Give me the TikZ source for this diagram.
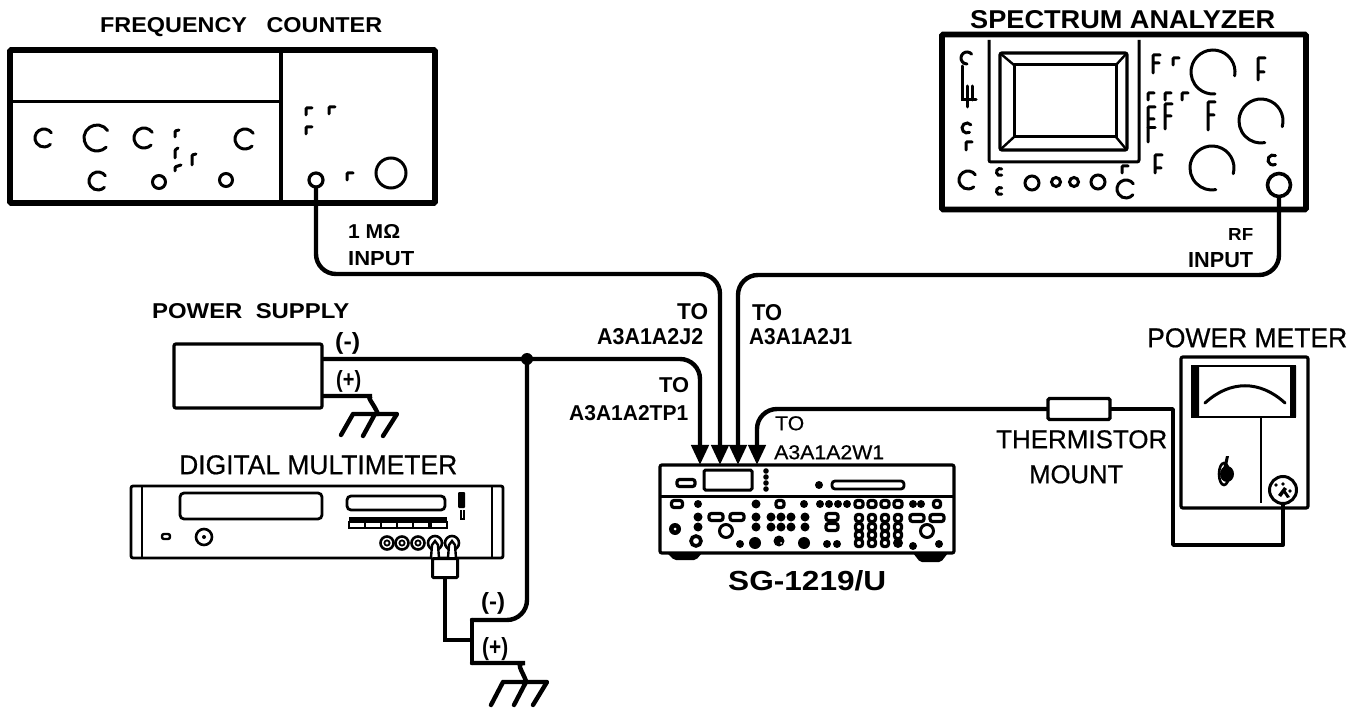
\documentclass[tikz,border=0pt]{standalone}
\usepackage{fontspec}
\setmainfont{Liberation Sans}
\newfontfamily\heavyfont[FakeBold=1.2]{Liberation Sans Bold}
\newfontfamily\medfont[FakeBold=0.6]{Liberation Sans}
\usetikzlibrary{arrows.meta}
\tikzset{
  wire/.style={line width=4.4pt,rounded corners=20pt,line cap=round},
  arrowwire/.style={wire,-{Triangle[length=20pt,width=17pt]}},
  case/.style={draw,line width=5.6pt,rounded corners=1pt,inner sep=0pt},
  panel/.style={draw,line width=3.2pt,rounded corners=2pt,inner sep=0pt},
  part/.style={draw,line width=2.8pt,rounded corners=2pt},
  lab/.style={inner sep=0pt,anchor=north west,font=\bfseries},
  labreg/.style={inner sep=0pt,anchor=north west,font=\medfont},
  hook/.style={line width=3pt,rounded corners=1pt,line cap=round}
}
% label box: left, top, right, bottom
\newcommand{\lbl}[7][lab]{\node[#1] (#2) at (#3,#4) {\resizebox{\dimexpr#5pt-#3pt\relax}{\dimexpr#6pt-#4pt\relax}{#7}};}
\newcommand{\knobc}[5]{\draw[line width=3pt,line cap=round] (#1,#2) ++(-#4:#3) arc (-#4:-#5:#3);}
\newcommand{\cknob}[3]{\knobc{#1}{#2}{#3}{35}{315}}
\newcommand{\rnd}[3]{\draw[line width=3pt] (#1,#2) circle (#3);}
\newcommand{\hk}[2]{\draw[hook] (#1,#2+7) -- (#1,#2) -- (#1+6,#2);}
\newcommand{\fk}[4]{\draw[hook] (#1,#2+#3) -- (#1,#2) -- (#1+7,#2) (#1,#2+#4) -- (#1+6,#2+#4);}
\newcommand{\blob}[3]{\fill (#1,#2) circle (#3);}
\newcommand{\ovl}[3]{\draw[line width=3.2pt,rounded corners=2.5pt] (#1-#3/2,#2-3.5) rectangle (#1+#3/2,#2+3.5);}
\begin{document}
\begin{tikzpicture}[x=1pt,y=-1pt]
\useasboundingbox (0,0) rectangle (1355,708);

% ---------- labels
\lbl{lfc}{100}{17}{382}{32}{FREQUENCY\ \ \ COUNTER}
\lbl{lfcin}{348}{224}{400}{238}{1 MΩ}
\lbl{lfcin2}{348}{251}{414}{265}{INPUT}
\lbl{lsa}{970}{10}{1275}{28}{SPECTRUM ANALYZER}
\lbl{lrf}{1228}{228}{1253}{240}{RF}
\lbl{lrf2}{1188}{252}{1253}{267}{INPUT}
\lbl{lps}{152}{303}{349}{318}{POWER\ \ SUPPLY}
\lbl{lm1}{335}{332}{360}{349}{(-)}
\lbl{lp1}{336}{370}{361}{387}{(+)}
\lbl[labreg]{ldm}{179}{455}{457}{474}{DIGITAL MULTIMETER}
\lbl{lto2}{677}{303}{708}{319}{TO}
\lbl{lj2}{597}{328}{703}{344}{A3A1A2J2}
\lbl{lto1}{752}{304}{782}{320}{TO}
\lbl{lj1}{749}{328}{852}{344}{A3A1A2J1}
\lbl{ltot}{659}{377}{689}{392}{TO}
\lbl{ltp}{569}{405}{688}{420}{A3A1A2TP1}
\lbl[labreg]{ltow}{775}{416}{804}{430}{TO}
\lbl[labreg]{lw1}{774}{445}{884}{459}{A3A1A2W1}
\lbl{lsg}{728}{570}{886}{590}{SG-1219/U}
\lbl[labreg]{lth}{996}{430}{1167}{448}{THERMISTOR}
\lbl[labreg]{lmt}{1029}{465}{1123}{483}{MOUNT}
\lbl[labreg]{lpm}{1147}{328}{1347}{347}{POWER METER}
\lbl{lm2}{481}{592}{505}{609}{(-)}
\lbl{lp2}{482}{637}{508}{655}{(+)}

% ---------- frequency counter
\node[case,minimum width=425pt,minimum height=153pt] (fc) at (222.5,126.5) {};
\coordinate (fcdt) at (281,50); \coordinate (fcdb) at (281,203);
\draw[line width=3.4pt] (fcdt) -- (fcdb);
\draw[line width=3pt] (12,102) -- (280,102);
\cknob{44}{138}{9}\cknob{97}{138}{13}\cknob{144}{138}{10}\cknob{245}{139}{10}\cknob{98}{181}{9}
\rnd{159}{182}{6.5}\rnd{226}{180}{6.5}
\draw[hook] (175,137)--(175,131)--(179,130);
\draw[hook] (175,158)--(175,150)--(178,148);
\draw[hook] (175,171)--(175,167)--(181,165);
\draw[hook] (192,165)--(192,155)--(196,154);
\hk{306}{108}\hk{329}{107}\hk{306}{127}\hk{347}{173}
\node[draw,circle,line width=3.2pt,minimum size=14pt,inner sep=0pt] (fcin) at (316,180) {};
\rnd{391}{173}{15}

% ---------- spectrum analyzer
\node[case,minimum width=364pt,minimum height=175pt] (sa) at (1124,122) {};
\draw[line width=3pt,rounded corners=2pt] (989,40) -- (989,162) -- (1139,162) -- (1139,40);
\draw[line width=3.2pt,rounded corners=2pt] (1000,53) rectangle (1127,150);
\draw[line width=3pt] (1014,65) rectangle (1116,137);
\draw[line width=2.4pt] (1001,54)--(1014,65) (1126,54)--(1116,65) (1001,149)--(1014,137) (1126,149)--(1116,137);
% left column
\knobc{967}{58}{6}{40}{270}
\draw[hook,rounded corners=0pt] (962,66)--(962,100)--(976,100) (967,86)--(967,107) (972,86)--(972,100);
\knobc{967}{128}{5}{40}{300}
\draw[hook] (966,150)--(966,142)--(972,142);
\knobc{968}{180}{9}{35}{310}
\knobc{1000}{172}{3.5}{60}{300}\knobc{1000}{191}{3.5}{60}{300}
\rnd{1032}{183}{7}\rnd{1056}{182}{4.5}\rnd{1074}{182}{4.5}\rnd{1098}{182}{7}
\knobc{1126}{189}{9}{35}{320}
\hk{1122}{166}
% switches
\fk{1153}{55}{18}{8}\hk{1173}{58}\knobc{1213}{72}{22}{-10}{275}\fk{1258}{58}{22}{14}
\hk{1148}{93}\hk{1165}{93}\hk{1182}{93}
\fk{1148}{107}{35}{12}\draw[hook](1148,128)--(1155,128);
\fk{1165}{104}{25}{12}\fk{1208}{102}{28}{13}
\knobc{1261}{121}{22}{-15}{280}
\fk{1155}{155}{18}{13}\knobc{1212}{168}{22}{-15}{280}
\knobc{1273}{160}{5}{60}{300}
\node[draw,circle,line width=3.6pt,minimum size=23pt,inner sep=0pt] (sain) at (1279,185) {};

% ---------- power supply
\node[panel,minimum width=148pt,minimum height=64pt] (ps) at (248,376) {};
\coordinate (psm) at (ps.east |- 0,359);
\coordinate (psp) at (ps.east |- 0,396);
\coordinate (jn) at (527,359);
\coordinate (g1) at (378,414);
\draw[line width=4.4pt,line cap=round,line join=round] (353,414)--(397,414)--(383,436) (353,414)--(341,435) (375,414)--(363,436);

% ---------- multimeter
\node[panel,line width=2.8pt,minimum width=372pt,minimum height=72pt] (dm) at (317,522) {};
\draw[line width=2.6pt] (142,486)--(142,558) (492,486)--(492,558);
\draw[part,rounded corners=4pt] (180,493) rectangle (322,519);
\draw[part,rounded corners=4pt] (347,496) rectangle (445,510);
\fill (349,517) rectangle (447,522);
\foreach \i in {349,365,381,397,413,431} {\draw[line width=2.4pt] (\i,522) -- (\i+16,522) -- (\i+16,528) -- (\i,528) -- cycle;}
\draw[part,line width=2.4pt] (162,534) rectangle (170,539);
\draw[line width=2.6pt] (204,537) circle (8); \fill (204,537) circle (2);
\draw[line width=2.4pt] (461,510)--(461,519)--(464,519)--(464,510); \fill[rounded corners=1pt] (458,492) rectangle (465,508);
\foreach \i in {387,402,418} {\draw[line width=2.6pt] (\i,543) circle (6.5); \draw[line width=1.8pt] (\i,543) circle (2.6);}
\draw[line width=2.6pt] (435,543) circle (7) (452,543) circle (7);
\draw[line width=2.4pt,fill=white] (431,558)--(432,545)--(435,541)--(438,545)--(439,558) (448,558)--(449,545)--(452,541)--(455,545)--(456,558);
\node[draw,fill=white,line width=3pt,rounded corners=1pt,minimum width=25pt,minimum height=19pt,inner sep=0pt] (plug) at (445,568) {};

% ---------- lower junction
\coordinate (lb1) at (472,620);
\coordinate (lb2) at (472,663);
\coordinate (lbt) at (472,640);
\coordinate (g2) at (526,681);
\draw[line width=4.4pt,line cap=round,line join=round] (503,682)--(547,682)--(533,705) (503,682)--(491,705) (526,682)--(514,705);

% ---------- signal generator
\node[panel,minimum width=294pt,minimum height=88pt] (sg) at (807,509) {};
\draw[line width=3pt] (660,496)--(954,496);
\coordinate (a1) at (700,465); \coordinate (a2) at (720,465);
\coordinate (a3) at (738,465); \coordinate (a4) at (757,465);
\fill[rounded corners=2pt] (667,553) -- (702,553) -- (696,560) -- (674,560) -- cycle;
\fill[rounded corners=2pt] (913,553) -- (948,553) -- (941,562) -- (920,562) -- cycle;
\ovl{686}{483}{18}
\draw[line width=3pt,rounded corners=1.5pt] (704,470) rectangle (752,490);
\fill (766,471) circle (2.8) (766,477) circle (2.8) (766,483) circle (2.8) (766,489) circle (2.8);
\blob{819}{485}{4}
\draw[line width=2.8pt,rounded corners=3pt] (832,481) rectangle (904,489);
% row 1
\ovl{677}{504}{11}\blob{698}{504}{4}\blob{756}{504}{4.5}\ovl{780}{504}{8}\blob{804}{504}{4}
\foreach \i in {820,829,838,847} {\blob{\i}{504}{4}}
\foreach \i in {859,872,885,898} {\ovl{\i}{504}{8}}
\blob{913}{504}{4}\blob{921}{504}{4}\ovl{937}{504}{7}
% rows
\foreach \i in {698,756,771,781,791,805} {\blob{\i}{517}{4.5}\blob{\i}{527}{4.5}}
\ovl{716}{517}{14}\ovl{737}{517}{14}
\ovl{832}{517}{12}\ovl{832}{527}{12}
\foreach \i in {859,872,885,898} {\ovl{\i}{518}{7}\ovl{\i}{527}{7}\ovl{\i}{535}{7}}
\foreach \i in {859,872,885} {\ovl{\i}{543}{7}}
\blob{898}{543}{5}
\ovl{917}{518}{14}\ovl{937}{518}{14}
\rnd{726}{531}{6.5}\rnd{927}{531}{6.5}
\fill (675,529) circle (6); \fill[white] (675,529) circle (1.5);
\draw[line width=3.6pt] (696,541) circle (5);
\blob{740}{544}{4}\blob{755}{543}{6}\blob{779}{541}{5.5}\fill[white] (781,543) circle (1);
\blob{804}{543}{6}\blob{827}{544}{4}\blob{837}{544}{4}\blob{913}{546}{4}\blob{939}{544}{4}

% ---------- thermistor + power meter
\node[draw,line width=3.4pt,rounded corners=1.5pt,minimum width=62pt,minimum height=21pt,inner sep=0pt] (th) at (1079,409) {};
\node[panel,minimum width=127pt,minimum height=151pt] (pm) at (1244.5,432.5) {};
\draw[line width=2.8pt] (1192,366) rectangle (1295,417);
\fill (1192,366) rectangle (1199,417) (1290,366) rectangle (1296,417);
\draw[line width=3pt,line cap=round] (1205,403) .. controls (1230,380) and (1260,380) .. (1285,403);
\draw[line width=1.8pt] (1261,417)--(1261,503);
\draw[line width=2.6pt] (1224,474) ellipse (5 and 11);
\fill (1227,474) ellipse (7 and 8);
\fill (1221,478) -- (1226,456) -- (1229,456) -- (1224,480) -- cycle;
\node[draw,fill=white,circle,line width=3pt,minimum size=27pt,inner sep=0pt] (term) at (1283,490) {};
\fill (1276,485) circle (1.8) (1283,484) circle (1.8) (1290,491) circle (1.8) (1278,495) -- (1284,487) -- (1287,489) -- (1281,497) -- cycle (1285,490) -- (1290,497) -- (1287,498) -- (1283,492) -- cycle;

% ---------- wires
\draw[arrowwire] (fcin.south) -- (fcin.south |- 0,274) -- (a2 |- 0,274) -- (a2);
\draw[arrowwire] (sain.south) -- (sain.south |- 0,275) -- (a3 |- 0,275) -- (a3);
\draw[arrowwire] (psm) -- (a1 |- psm) -- (a1);
\draw[arrowwire] (th.west) -- (a4 |- th.west) -- (a4);
\fill (jn) circle (6);
\draw[wire] (psm) -- (jn);
\draw[wire] (jn) -- (527,620) -- (lb1);
\draw[wire,rounded corners=0pt,line join=round] (lb1) -- (lb2);
\draw[wire] (lb2) -- (505,663) .. controls (515,663) and (522,670) .. (g2);
\draw[wire,rounded corners=0pt,line width=3.8pt] (lbt) -- (445,640) -- (plug.south -| 445,0);
\draw[wire] (psp) -- (352,396) .. controls (365,396) and (373,402) .. (g1);
\draw[wire,line width=3.8pt,rounded corners=0pt,line join=round] (th.east) -- (1173,409) -- (1173,545) -- (1283,545) -- (term.south);
\end{tikzpicture}
\end{document}
